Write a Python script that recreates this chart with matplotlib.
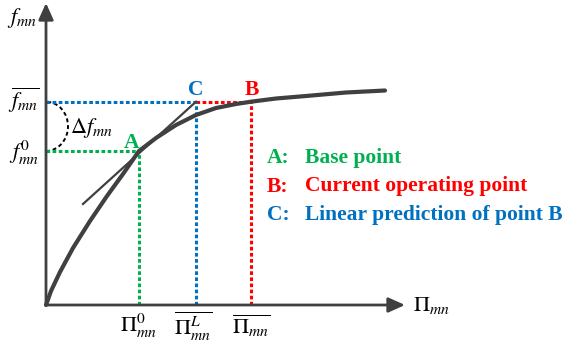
import numpy as np
import matplotlib
matplotlib.use("Agg")
import matplotlib.pyplot as plt
from matplotlib.patches import Arc

plt.rcParams["mathtext.fontset"] = "stix"

# curve (origin of the axes at 0,0)
curve_x = [0, 5, 14, 27, 44, 61, 77, 93, 110, 130, 150, 170, 190, 205, 230, 260, 300, 339]
curve_y = [0, 14, 33, 57, 84, 109, 131, 154, 167, 180, 190, 197, 201, 203.3, 206.5, 209, 212.5, 214.5]

# A: base point, B: current operating point, C: linear prediction of B
pt_x = {"A": 93, "B": 205, "C": 150}
pt_y = {"A": 154, "B": 203.3, "C": 203.3}
tangent_x = [37, 150]
tangent_y = [101, 203.3]

green = "#00B050"
red = "#FF0000"
blue = "#0070C0"
gray = "#404040"

legend_keys = ["A:", "B:", "C:"]
legend_text = ["Base point", "Current operating point", "Linear prediction of point B"]
legend_cols = [green, red, blue]

fig = plt.figure(figsize=(5.69, 3.49), dpi=100)
ax = fig.add_axes([0, 0, 1, 1])
ax.set_xlim(-46, 523)
ax.set_ylim(-44, 305)
ax.axis("off")

# axes with arrow heads
arrow = dict(arrowstyle="-|>,head_length=1.0,head_width=0.45", color=gray, lw=2,
             shrinkA=0, shrinkB=0)
ax.annotate("", xy=(0, 302), xytext=(0, 0), arrowprops=arrow)
ax.annotate("", xy=(359, 0), xytext=(0, 0), arrowprops=arrow)

dash = (0, (1.2, 0.8))
kw = dict(lw=2.2, linestyle=dash, dash_capstyle="butt")
# guide lines
ax.plot([0, pt_x["C"]], [pt_y["C"], pt_y["C"]], color=blue, **kw)
ax.plot([pt_x["C"], pt_x["B"]], [pt_y["B"], pt_y["B"]], color=red, **kw)
ax.plot([0, pt_x["A"]], [pt_y["A"], pt_y["A"]], color=green, **kw)
ax.plot([pt_x["A"], pt_x["A"]], [0, pt_y["A"]], color=green, **kw)
ax.plot([pt_x["C"], pt_x["C"]], [0, pt_y["C"]], color=blue, **kw)
ax.plot([pt_x["B"], pt_x["B"]], [0, pt_y["B"]], color=red, **kw)

# curve + tangent
ax.plot(curve_x, curve_y, color=gray, lw=3, solid_capstyle="round", solid_joinstyle="round")
ax.plot(tangent_x, tangent_y, color=gray, lw=1.6)

# delta f arc
ax.add_patch(Arc((0, (pt_y["A"] + pt_y["C"]) / 2), 44, pt_y["C"] - pt_y["A"], theta1=-90, theta2=90,
                 color="black", lw=1.4, linestyle=(0, (2, 1.5))))

bold = dict(family="Liberation Serif", weight="bold", fontsize=15.5)
ax.text(pt_x["A"] - 7, pt_y["A"] + 8, "A", color=green, ha="center", va="center", **bold)
ax.text(pt_x["C"], pt_y["C"] + 12, "C", color=blue, ha="center", va="center", **bold)
ax.text(pt_x["B"] + 1, pt_y["B"] + 12, "B", color=red, ha="center", va="center", **bold)

for i in range(3):
    yy = 147 - 28.5 * i
    ax.text(221, yy, legend_keys[i], color=legend_cols[i], ha="left", va="center", **bold)
    ax.text(259, yy, legend_text[i], color=legend_cols[i], ha="left", va="center", **bold)

fs = 16
ax.text(-24, 287, r"$f_{mn}$", ha="center", va="center", fontsize=fs)
ax.text(-22, 205, r"$\overline{f_{mn}}$", ha="center", va="center", fontsize=fs)
ax.text(-22, 152, r"$f_{mn}^{0}$", ha="center", va="center", fontsize=fs)
ax.text(24, 177, r"$\Delta f_{mn}$", ha="left", va="center", fontsize=fs)
ax.text(367, 0, r"$\Pi_{mn}$", ha="left", va="center", fontsize=fs)
ax.text(pt_x["A"], -21, r"$\Pi_{mn}^{0}$", ha="center", va="center", fontsize=fs)
ax.text(pt_x["C"] - 3, -21, r"$\overline{\Pi_{mn}^{L}}$", ha="center", va="center", fontsize=fs)
ax.text(pt_x["B"], -21, r"$\overline{\Pi_{mn}}$", ha="center", va="center", fontsize=fs)

fig.savefig("out.png", dpi=100)
